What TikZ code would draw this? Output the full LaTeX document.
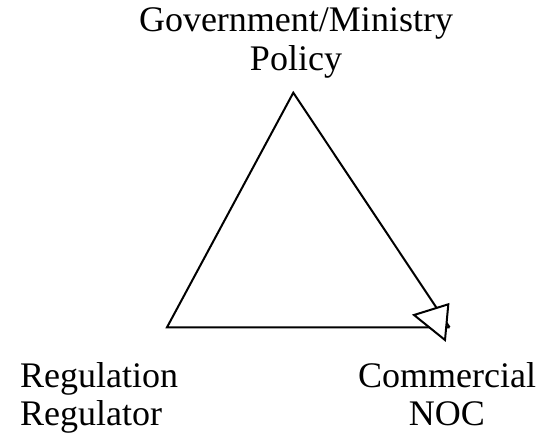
\documentclass[tikz,border=0pt]{standalone}
\usepackage{fontspec}
\setmainfont{Liberation Serif}
\usetikzlibrary{positioning}
\tikzset{%
  role/.style = {align=center, inner sep=0pt,%
                 font=\fontsize{36}{39}\selectfont},%
  side/.style = {line width=2pt, line join=miter},%
  head/.style = {side, fill=white}%
}
\begin{document}
\begin{tikzpicture}
[x=1pt,y=-1pt]
	\useasboundingbox (0,0) rectangle (544,438);
	% corners of the triangle
	\coordinate (top) at (293.3,92.7);
	\coordinate (left) at (167,327.3);
	\coordinate (right) at (449.5,327.3);
	% labels
	\node [role,anchor=base] (gov) at (296,71) {Government/Ministry\\Policy};
	\node [role,anchor=base west,align=left] (reg) at (20,426) {Regulation\\Regulator};
	\node [role,anchor=base] (com) at (447,426) {Commercial\\NOC};
	\draw [side] (right) -- (top) -- (left) -- (right);
	\draw [head] (414,315) -- (448.3,304.3) -- (445,340) -- cycle;
\end{tikzpicture}
\end{document}
